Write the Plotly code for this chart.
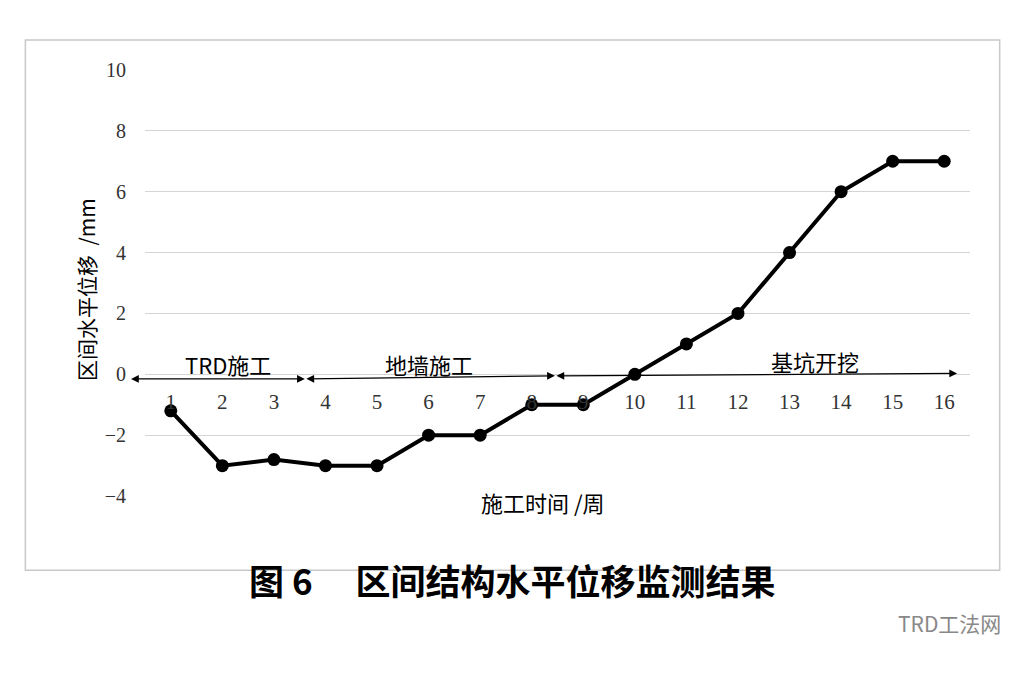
import plotly.graph_objects as go

weeks = list(range(1, 17))
disp = [-1.2, -3, -2.8, -3, -3, -2, -2, -1, -1, 0, 1, 2, 4, 6, 7, 7]
y_ticks = [-4, -2, 0, 2, 4, 6, 8, 10]

# stage arrows: (start week, end week, y start, y end, label, label x, label y)
stages = [
    (0.2, 3.6, -0.15, -0.15, "TRD施工", 2.1, 0.35),
    (3.6, 8.45, -0.15, -0.05, "地墙施工", 6.0, 0.35),
    (8.45, 16.25, -0.05, 0.03, "基坑开挖", 13.5, 0.45),
]

fig = go.Figure()
fig.add_trace(go.Scatter(
    x=weeks, y=disp, mode="lines+markers",
    line=dict(color="black", width=4),
    marker=dict(color="black", size=13),
    showlegend=False,
))

for x0, x1, y0, y1, label, lx, ly in stages:
    fig.add_annotation(
        x=x1, y=y1, ax=x0, ay=y0, xref="x", yref="y", axref="x", ayref="y",
        text="", showarrow=True, arrowhead=2, startarrowhead=2,
        arrowside="end+start", arrowwidth=1.2, arrowsize=1.3, arrowcolor="black",
    )
    fig.add_annotation(x=lx, y=ly, text=label, showarrow=False,
                       font=dict(size=22, color="black"))

fig.add_annotation(x=-0.092, y=0.484, xref="paper", yref="paper",
                   text="区间水平位移  /mm", textangle=-90, showarrow=False,
                   font=dict(size=21, color="black"))
fig.add_annotation(x=0.482, y=-0.054, xref="paper", yref="paper",
                   text="施工时间 /周", showarrow=False,
                   font=dict(size=22, color="black"))
fig.add_annotation(x=0.445, y=-0.257, xref="paper", yref="paper",
                   text="<b>图 6　 区间结构水平位移监测结果</b>", showarrow=False,
                   font=dict(size=35, color="black", family="Noto Sans CJK SC"))
fig.add_annotation(x=1.04, y=-0.334, xref="paper", yref="paper",
                   text="TRD工法网", showarrow=False,
                   font=dict(size=21, color="#888888"))

fig.add_shape(type="rect", xref="paper", yref="paper",
              x0=-0.145, x1=1.036, y0=-0.171, y1=1.068,
              line=dict(color="#c8c8c8", width=1.5))

fig.update_layout(
    width=1036, height=688,
    margin=dict(l=137, r=74, t=61, b=199),
    plot_bgcolor="white", paper_bgcolor="white",
    font=dict(family="Noto Sans CJK SC", color="black"),
    xaxis=dict(range=[0.5, 16.5], tickvals=weeks, anchor="free", position=0.285,
               showgrid=False, showline=False, zeroline=False,
               ticks="outside", ticklen=8, tickcolor="rgba(0,0,0,0)",
               tickfont=dict(family="Liberation Serif", size=21, color="#333333")),
    yaxis=dict(range=[-4.03, 10.03], tickvals=y_ticks, gridcolor="#d4d4d4", gridwidth=1.2,
               zeroline=False, showline=False, ticks="outside", ticklen=14,
               tickcolor="rgba(0,0,0,0)",
               tickfont=dict(family="Liberation Serif", size=20, color="#333333")),
)

fig.write_html("out.html")
